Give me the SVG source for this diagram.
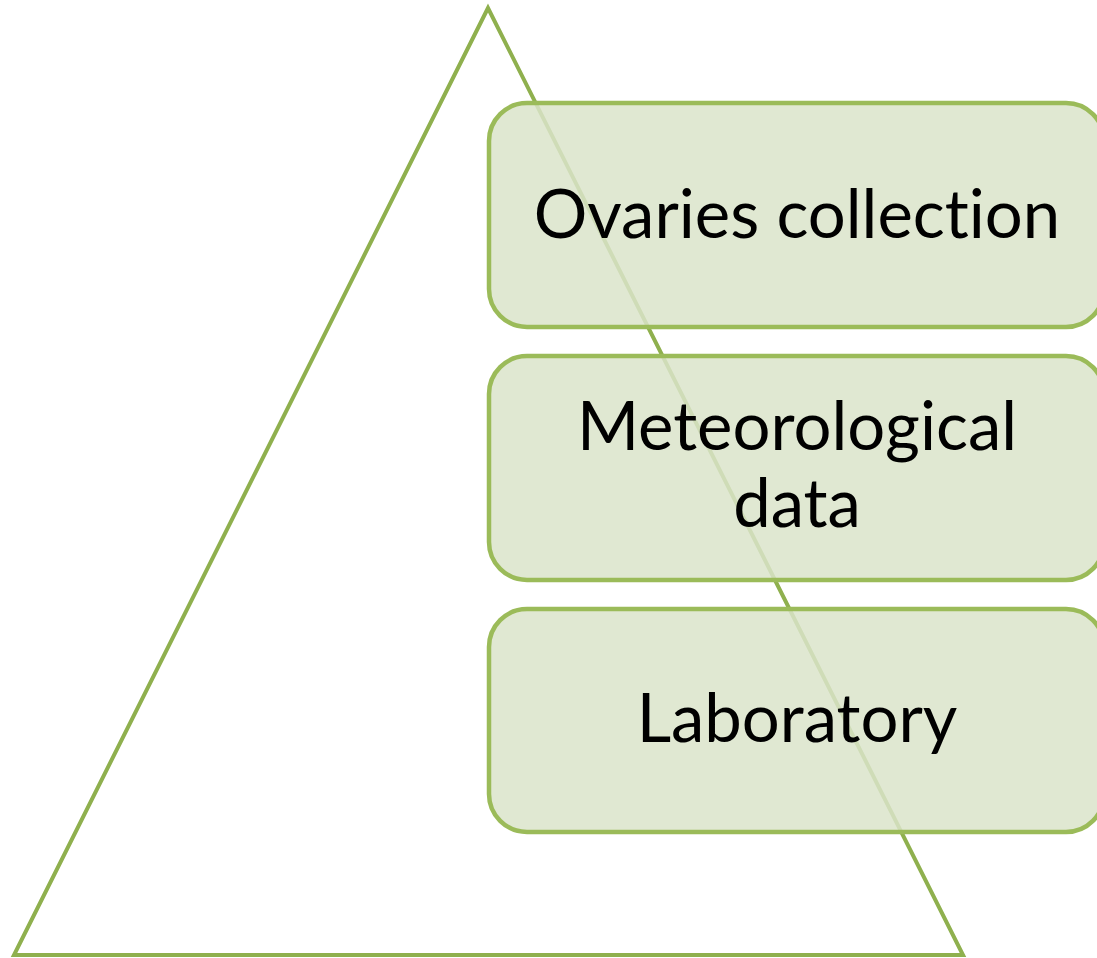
<svg xmlns="http://www.w3.org/2000/svg" width="1097" height="958" viewBox="0 0 1097 958">
<style>
.box{fill:#DBE4CA;fill-opacity:0.85;stroke:#9BBB59;stroke-width:4.5}
.lbl{font-family:Lato,"Open Sans",sans-serif;font-size:67px;fill:#000;text-anchor:middle;font-variant-ligatures:none;font-feature-settings:"liga" 0,"clig" 0}
</style>
<rect width="1097" height="958" fill="#fff"/>
<g id="triangle"><polygon points="488,8 14,955 963,955" fill="none" stroke="#8FB04E" stroke-width="4" stroke-linejoin="miter"/></g>
<g id="n1"><rect class="box" x="489" y="103" width="615" height="224" rx="38"/><text class="lbl" x="797" y="238">Ovaries collection</text></g>
<g id="n2"><rect class="box" x="489" y="356" width="615" height="224" rx="38"/><text class="lbl" x="797" y="450">Meteorological</text><text class="lbl" x="797" y="527">data</text></g>
<g id="n3"><rect class="box" x="489" y="609" width="615" height="223" rx="38"/><text class="lbl" x="797" y="742">Laboratory</text></g>
<g id="connectors"/>
</svg>
